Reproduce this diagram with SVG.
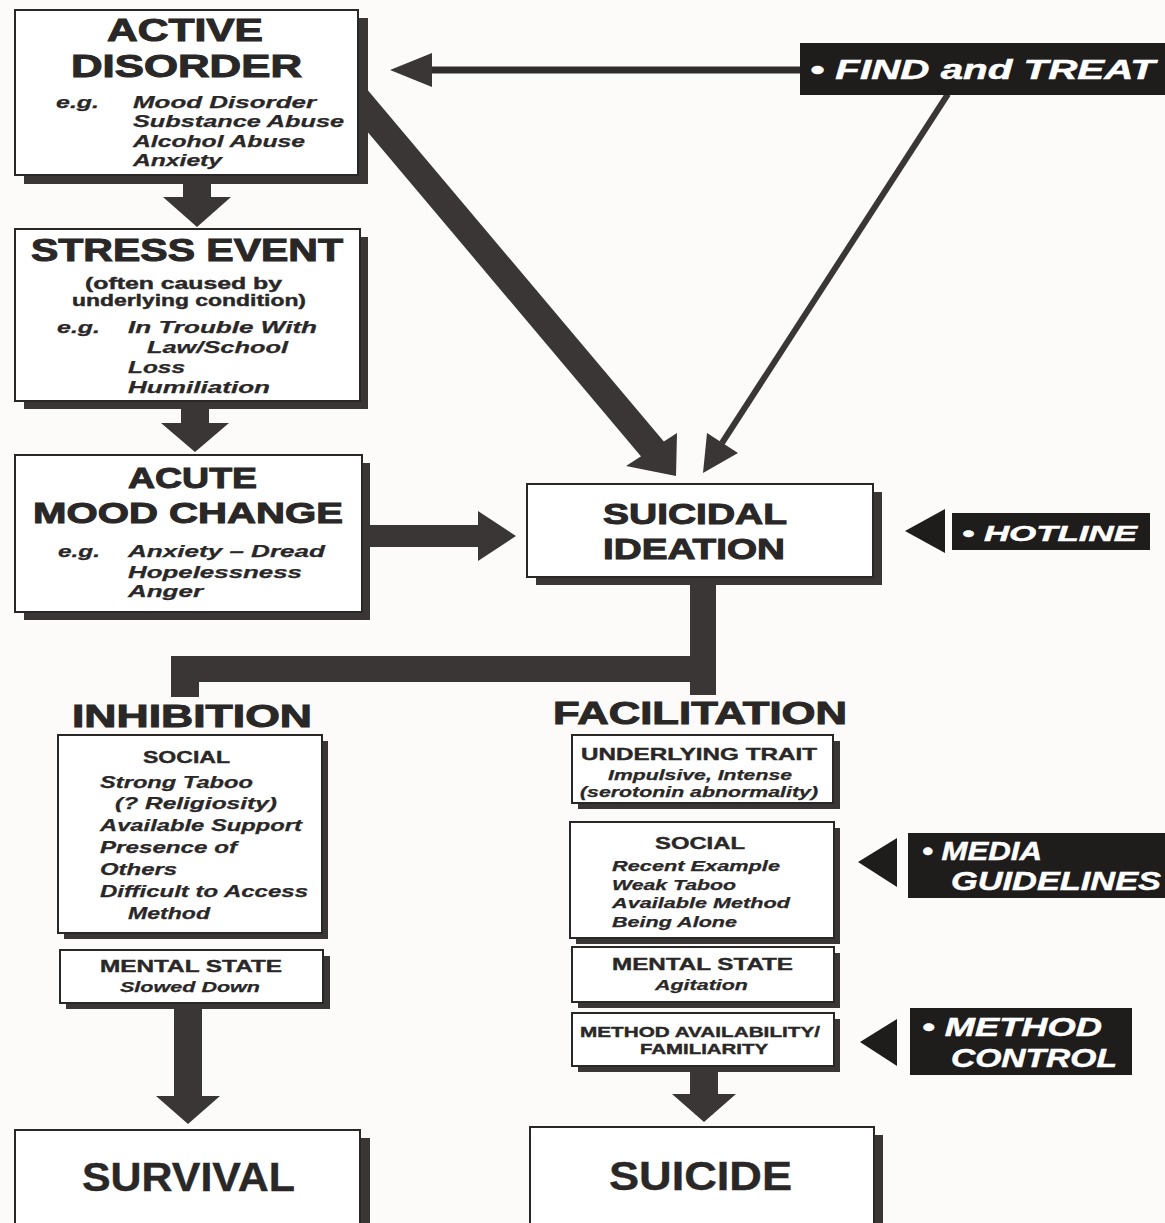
<svg xmlns="http://www.w3.org/2000/svg" width="1165" height="1223" viewBox="0 0 1165 1223">
<style>
.box{fill:#fff;stroke:#2a2727;stroke-width:2}
.sh{fill:#3a3636}
.blk{fill:#1f1c1c}
.arr{fill:#3a3636}
.h{font-family:"Liberation Sans",Arial,sans-serif;font-weight:bold;fill:#2a2727;stroke:#2a2727;stroke-width:1}
.s{font-family:"Liberation Sans",Arial,sans-serif;font-weight:bold;fill:#2a2727;stroke:#2a2727;stroke-width:0.4}
.i{font-family:"Liberation Sans",Arial,sans-serif;font-weight:bold;font-style:italic;fill:#2a2727;stroke:#2a2727;stroke-width:0.25}
.w{font-family:"Liberation Sans",Arial,sans-serif;font-weight:bold;font-style:italic;fill:#fff;stroke:#fff;stroke-width:0.5}
</style>
<rect width="1165" height="1223" fill="#fcfbf9"/>
<g id="connectors">
  <polygon class="arr" points="183,180 211,180 211,197 231,197 197,227 163,197 183,197"/>
  <polygon class="arr" points="181,405 209,405 209,423 229,423 195,452 161,423 181,423"/>
  <polygon class="arr" points="365,525 478,525 478,511 516,536 478,561 478,547 365,547"/>
  <line x1="355" y1="96" x2="655" y2="452" stroke="#3a3636" stroke-width="27"/>
  <polygon class="arr" points="676,476 677,433 626,466"/>
  <line x1="948" y1="94" x2="722" y2="443" stroke="#3a3636" stroke-width="6"/>
  <polygon class="arr" points="703,473 738,453 707,433"/>
  <line x1="430" y1="70" x2="802" y2="70" stroke="#2f2b2b" stroke-width="7"/>
  <polygon class="arr" points="390,70 432,53 432,87"/>
  <path class="arr" d="M690,580 H716 V695 H690 V682 H199 V697 H171 V656 H690 Z"/>
  <polygon class="arr" points="174,1006 202,1006 202,1096 220,1096 188,1124 156,1096 174,1096"/>
  <polygon class="arr" points="690,1066 718,1066 718,1094 736,1094 704,1122 672,1094 690,1094"/>
  <polygon class="blk" points="905,531 945,509 945,553"/>
  <polygon class="blk" points="858,862 897,838 897,887"/>
  <polygon class="blk" points="860,1042 897,1019 897,1066"/>
</g>
<g id="active-disorder">
  <rect class="sh" x="24" y="18" width="344" height="166"/>
  <rect class="box" x="15" y="10" width="343" height="165"/>
  <text class="h" x="107" y="41" font-size="31" textLength="156" lengthAdjust="spacingAndGlyphs">ACTIVE</text>
  <text class="h" x="71" y="77" font-size="31" textLength="231" lengthAdjust="spacingAndGlyphs">DISORDER</text>
  <text class="i" x="56" y="108" font-size="17" textLength="43" lengthAdjust="spacingAndGlyphs">e.g.</text>
  <text class="i" x="133" y="108" font-size="17" textLength="183" lengthAdjust="spacingAndGlyphs">Mood Disorder</text>
  <text class="i" x="133" y="127" font-size="17" textLength="211" lengthAdjust="spacingAndGlyphs">Substance Abuse</text>
  <text class="i" x="133" y="147" font-size="17" textLength="172" lengthAdjust="spacingAndGlyphs">Alcohol Abuse</text>
  <text class="i" x="133" y="166" font-size="17" textLength="89" lengthAdjust="spacingAndGlyphs">Anxiety</text>
</g>
<g id="stress-event">
  <rect class="sh" x="24" y="237" width="344" height="172"/>
  <rect class="box" x="15" y="229" width="345" height="172"/>
  <text class="h" x="31" y="261" font-size="31" textLength="312" lengthAdjust="spacingAndGlyphs">STRESS EVENT</text>
  <text class="s" x="85" y="289" font-size="16" textLength="197" lengthAdjust="spacingAndGlyphs">(often caused by</text>
  <text class="s" x="72" y="306" font-size="16" textLength="234" lengthAdjust="spacingAndGlyphs">underlying condition)</text>
  <text class="i" x="57" y="333" font-size="17" textLength="43" lengthAdjust="spacingAndGlyphs">e.g.</text>
  <text class="i" x="128" y="333" font-size="17" textLength="189" lengthAdjust="spacingAndGlyphs">In Trouble With</text>
  <text class="i" x="147" y="353" font-size="17" textLength="141" lengthAdjust="spacingAndGlyphs">Law/School</text>
  <text class="i" x="128" y="373" font-size="17" textLength="57" lengthAdjust="spacingAndGlyphs">Loss</text>
  <text class="i" x="128" y="393" font-size="17" textLength="142" lengthAdjust="spacingAndGlyphs">Humiliation</text>
</g>
<g id="acute-mood-change">
  <rect class="sh" x="24" y="463" width="346" height="157"/>
  <rect class="box" x="15" y="455" width="347" height="157"/>
  <text class="h" x="128" y="488" font-size="30" textLength="129" lengthAdjust="spacingAndGlyphs">ACUTE</text>
  <text class="h" x="33" y="523" font-size="30" textLength="310" lengthAdjust="spacingAndGlyphs">MOOD CHANGE</text>
  <text class="i" x="58" y="557" font-size="17" textLength="42" lengthAdjust="spacingAndGlyphs">e.g.</text>
  <text class="i" x="128" y="557" font-size="17" textLength="197" lengthAdjust="spacingAndGlyphs">Anxiety – Dread</text>
  <text class="i" x="128" y="578" font-size="17" textLength="174" lengthAdjust="spacingAndGlyphs">Hopelessness</text>
  <text class="i" x="128" y="597" font-size="17" textLength="75" lengthAdjust="spacingAndGlyphs">Anger</text>
</g>
<g id="suicidal-ideation">
  <rect class="sh" x="536" y="492" width="346" height="93"/>
  <rect class="box" x="527" y="484" width="346" height="93"/>
  <text class="h" x="603" y="524" font-size="30" textLength="184" lengthAdjust="spacingAndGlyphs">SUICIDAL</text>
  <text class="h" x="603" y="559" font-size="30" textLength="182" lengthAdjust="spacingAndGlyphs">IDEATION</text>
</g>
<g id="find-and-treat">
  <rect class="blk" x="800" y="43" width="365" height="52"/>
  <text class="w" x="810" y="79" font-size="27" textLength="345" lengthAdjust="spacingAndGlyphs">• FIND and TREAT</text>
</g>
<g id="hotline">
  <rect class="blk" x="952" y="513" width="198" height="37"/>
  <text class="w" x="962" y="541" font-size="22" textLength="175" lengthAdjust="spacingAndGlyphs">• HOTLINE</text>
</g>
<g id="inhibition">
  <text class="h" x="72" y="727" font-size="32" textLength="240" lengthAdjust="spacingAndGlyphs">INHIBITION</text>
</g>
<g id="inhibition-social">
  <rect class="sh" x="64" y="741" width="264" height="198"/>
  <rect class="box" x="58" y="735" width="264" height="198"/>
  <text class="s" x="143" y="763" font-size="17" textLength="87" lengthAdjust="spacingAndGlyphs">SOCIAL</text>
  <text class="i" x="100" y="788" font-size="17" textLength="153" lengthAdjust="spacingAndGlyphs">Strong Taboo</text>
  <text class="i" x="115" y="809" font-size="17" textLength="162" lengthAdjust="spacingAndGlyphs">(? Religiosity)</text>
  <text class="i" x="100" y="831" font-size="17" textLength="202" lengthAdjust="spacingAndGlyphs">Available Support</text>
  <text class="i" x="100" y="853" font-size="17" textLength="137" lengthAdjust="spacingAndGlyphs">Presence of</text>
  <text class="i" x="100" y="875" font-size="17" textLength="77" lengthAdjust="spacingAndGlyphs">Others</text>
  <text class="i" x="100" y="897" font-size="17" textLength="208" lengthAdjust="spacingAndGlyphs">Difficult to Access</text>
  <text class="i" x="128" y="919" font-size="17" textLength="82" lengthAdjust="spacingAndGlyphs">Method</text>
</g>
<g id="inhibition-mental-state">
  <rect class="sh" x="66" y="956" width="264" height="53"/>
  <rect class="box" x="60" y="950" width="263" height="53"/>
  <text class="s" x="100" y="972" font-size="17" textLength="182" lengthAdjust="spacingAndGlyphs">MENTAL STATE</text>
  <text class="i" x="120" y="992" font-size="15" textLength="140" lengthAdjust="spacingAndGlyphs">Slowed Down</text>
</g>
<g id="facilitation">
  <text class="h" x="553" y="724" font-size="32" textLength="294" lengthAdjust="spacingAndGlyphs">FACILITATION</text>
</g>
<g id="underlying-trait">
  <rect class="sh" x="578" y="741" width="262" height="68"/>
  <rect class="box" x="572" y="735" width="261" height="68"/>
  <text class="s" x="581" y="760" font-size="17" textLength="236" lengthAdjust="spacingAndGlyphs">UNDERLYING TRAIT</text>
  <text class="i" x="608" y="780" font-size="14" textLength="184" lengthAdjust="spacingAndGlyphs">Impulsive, Intense</text>
  <text class="i" x="580" y="797" font-size="14" textLength="238" lengthAdjust="spacingAndGlyphs">(serotonin abnormality)</text>
</g>
<g id="facilitation-social">
  <rect class="sh" x="576" y="828" width="264" height="116"/>
  <rect class="box" x="570" y="822" width="264" height="116"/>
  <text class="s" x="655" y="849" font-size="17" textLength="90" lengthAdjust="spacingAndGlyphs">SOCIAL</text>
  <text class="i" x="612" y="871" font-size="14.5" textLength="168" lengthAdjust="spacingAndGlyphs">Recent Example</text>
  <text class="i" x="612" y="890" font-size="14.5" textLength="124" lengthAdjust="spacingAndGlyphs">Weak Taboo</text>
  <text class="i" x="612" y="908" font-size="14.5" textLength="178" lengthAdjust="spacingAndGlyphs">Available Method</text>
  <text class="i" x="612" y="927" font-size="14.5" textLength="125" lengthAdjust="spacingAndGlyphs">Being Alone</text>
</g>
<g id="facilitation-mental-state">
  <rect class="sh" x="578" y="953" width="262" height="55"/>
  <rect class="box" x="572" y="947" width="262" height="55"/>
  <text class="s" x="612" y="970" font-size="17" textLength="181" lengthAdjust="spacingAndGlyphs">MENTAL STATE</text>
  <text class="i" x="655" y="990" font-size="15" textLength="93" lengthAdjust="spacingAndGlyphs">Agitation</text>
</g>
<g id="method-availability">
  <rect class="sh" x="578" y="1019" width="262" height="53"/>
  <rect class="box" x="572" y="1013" width="262" height="53"/>
  <text class="s" x="580" y="1037" font-size="15" textLength="240" lengthAdjust="spacingAndGlyphs">METHOD AVAILABILITY/</text>
  <text class="s" x="640" y="1054" font-size="15" textLength="128" lengthAdjust="spacingAndGlyphs">FAMILIARITY</text>
</g>
<g id="media-guidelines">
  <rect class="blk" x="908" y="833" width="257" height="65"/>
  <text class="w" x="922" y="860" font-size="26" textLength="120" lengthAdjust="spacingAndGlyphs">• MEDIA</text>
  <text class="w" x="951" y="890" font-size="26" textLength="210" lengthAdjust="spacingAndGlyphs">GUIDELINES</text>
</g>
<g id="method-control">
  <rect class="blk" x="910" y="1008" width="222" height="67"/>
  <text class="w" x="922" y="1036" font-size="26" textLength="180" lengthAdjust="spacingAndGlyphs">• METHOD</text>
  <text class="w" x="951" y="1067" font-size="26" textLength="166" lengthAdjust="spacingAndGlyphs">CONTROL</text>
</g>
<g id="survival">
  <rect class="sh" x="25" y="1138" width="345" height="100"/>
  <rect class="box" x="15" y="1130" width="345" height="100"/>
  <text class="s" x="82" y="1191" font-size="40" textLength="213" lengthAdjust="spacingAndGlyphs">SURVIVAL</text>
</g>
<g id="suicide">
  <rect class="sh" x="539" y="1135" width="344" height="100"/>
  <rect class="box" x="530" y="1127" width="344" height="100"/>
  <text class="s" x="609" y="1190" font-size="40" textLength="183" lengthAdjust="spacingAndGlyphs">SUICIDE</text>
</g>
</svg>
